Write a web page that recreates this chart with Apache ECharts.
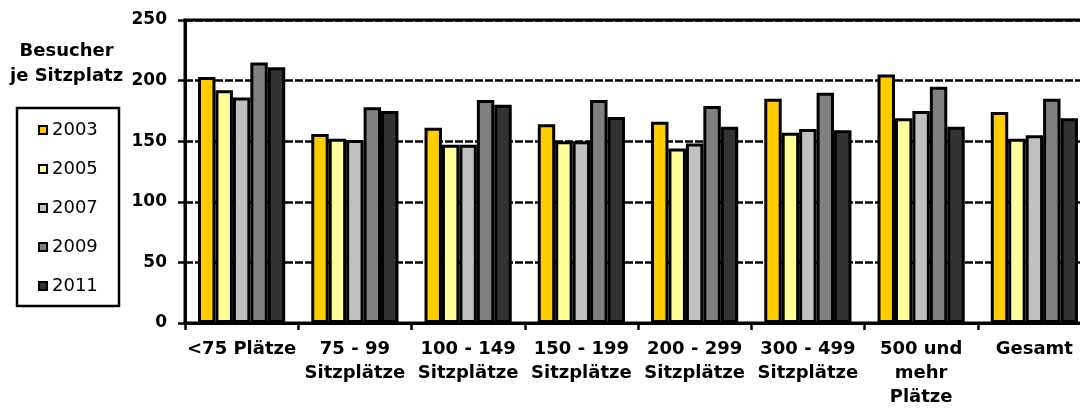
<!DOCTYPE html>
<html>
<head>
<meta charset="utf-8">
<script src="https://cdn.jsdelivr.net/npm/echarts@6/dist/echarts.min.js"></script>
<style>
  html, body { margin: 0; padding: 0; background: #fff; overflow: hidden; }
  /* plot area runs past the right edge of the window, as in the original */
  #chart { width: 1100px; height: 409px; }
</style>
</head>
<body>
<div id="chart"></div>
<script>
// Kategorien (Kinogröße nach Sitzplätzen)
const categories = [
  '<75 Plätze',
  '75 - 99\nSitzplätze',
  '100 - 149\nSitzplätze',
  '150 - 199\nSitzplätze',
  '200 - 299\nSitzplätze',
  '300 - 499\nSitzplätze',
  '500 und\nmehr\nPlätze',
  'Gesamt'
]
const years = ['2003', '2005', '2007', '2009', '2011']

// Besucher je Sitzplatz
const v2003 = [203, 156, 161, 164, 166, 185, 205, 174]
const v2005 = [192, 152, 147, 150, 144, 157, 169, 152]
const v2007 = [186, 151, 147, 150, 148, 160, 175, 155]
const v2009 = [215, 178, 184, 184, 179, 190, 195, 185]
const v2011 = [211, 175, 180, 170, 162, 159, 162, 169]

const yTicks = [0, 50, 100, 150, 200, 250]

const seriesValues = [v2003, v2005, v2007, v2009, v2011]
const colors = ['#FFCC00', '#FFFF99', '#C0C0C0', '#808080', '#333333']

const font = 'DejaVu Sans'

const chart = echarts.init(document.getElementById('chart'), null, { renderer: 'canvas' })

chart.setOption({
  animation: false,
  backgroundColor: '#fff',
  graphic: [
    {
      type: 'text',
      left: 10,
      top: 39,
      style: {
        text: 'Besucher\nje Sitzplatz',
        x: 57,
        textAlign: 'center',
        font: 'bold 18px "DejaVu Sans"',
        lineHeight: 25,
        fill: '#000'
      }
    },
    {
      type: 'rect',
      shape: { x: 17, y: 108, width: 102, height: 198 },
      style: { fill: 'none', stroke: '#000', lineWidth: 2.5 }
    }
  ],
  legend: {
    data: years,
    orient: 'vertical',
    left: 38,
    top: 120,
    padding: 0,
    icon: 'rect',
    itemWidth: 8,
    itemHeight: 8,
    itemGap: 19,
    itemTextGap: 6,
    itemStyle: { borderColor: '#000', borderWidth: 2 },
    textStyle: { fontFamily: font, fontSize: 18, color: '#000', lineHeight: 20 }
  },
  grid: {
    left: 185,
    top: 20,
    right: 9,
    bottom: 82,
    show: true,
    borderColor: '#000',
    borderWidth: 3
  },
  xAxis: {
    type: 'category',
    data: categories,
    axisLine: { lineStyle: { color: '#000', width: 3 } },
    axisTick: { show: true, length: 7, lineStyle: { color: '#000', width: 2.5 } },
    axisLabel: {
      interval: 0,
      margin: 14,
      color: '#000',
      fontFamily: font,
      fontWeight: 'bold',
      fontSize: 18,
      lineHeight: 24
    },
    splitLine: { show: false }
  },
  yAxis: {
    type: 'value',
    min: yTicks[0],
    max: yTicks[yTicks.length - 1],
    interval: 50,
    axisLine: { show: true, lineStyle: { color: '#000', width: 3 } },
    axisTick: { show: true, length: 7, lineStyle: { color: '#000', width: 2.5 } },
    axisLabel: {
      margin: 18,
      color: '#000',
      fontFamily: font,
      fontWeight: 'bold',
      fontSize: 17
    },
    splitLine: { lineStyle: { color: '#000', width: 2.5, type: [8, 2] } }
  },
  series: years.map((y, i) => ({
    name: y,
    type: 'bar',
    data: seriesValues[i],
    barGap: '0%',
    barCategoryGap: '23%',
    itemStyle: { color: colors[i], borderColor: '#000', borderWidth: 3 }
  }))
})
</script>
</body>
</html>
